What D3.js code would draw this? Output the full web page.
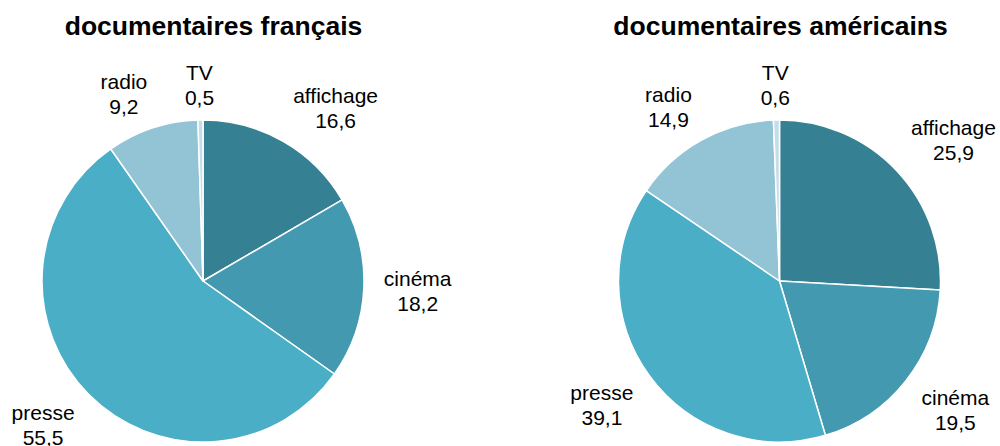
<!DOCTYPE html>
<html>
<head>
<meta charset="utf-8">
<script src="https://cdn.jsdelivr.net/npm/d3@7"></script>
<style>
  html, body { margin: 0; padding: 0; background: #fff; }
  svg { display: block; font-family: Arial, "Liberation Sans", sans-serif; }
</style>
</head>
<body>
<div id="canvas"></div>
<script>
const categories = ['affichage', 'cinéma', 'presse', 'radio', 'TV']
const titles = ['documentaires français', 'documentaires américains']
const valuesFr = [16.6, 18.2, 55.5, 9.2, 0.5]
const valuesUs = [25.9, 19.5, 39.1, 14.9, 0.6]

const colors = ['#368093', '#4399b0', '#4aaec6', '#93c4d5', '#c4dde8']

const width = 1000
const height = 446
const radius = 161
const panels = [
  { cx: 203, cy: 281, titleX: 213.5, values: valuesFr, title: titles[0] },
  { cx: 779.5, cy: 281, titleX: 780.5, values: valuesUs, title: titles[1] }
]

const color = d3.scaleOrdinal()
  .domain(categories)
  .range(colors)

const fmt = v => String(v.toFixed(1)).replace('.', ',')

const svg = d3.select('#canvas')
  .append('svg')
    .attr('width', width)
    .attr('height', height)

const pie = d3.pie()
  .sort(null)
  .value(d => d.value)

const arc = d3.arc()
  .innerRadius(0)
  .outerRadius(radius)

const clamp = v => Math.max(-1, Math.min(1, v))

panels.forEach(p => {
  const data = categories.map((c, i) => ({ name: c, value: p.values[i] }))

  svg.append('text')
    .attr('x', p.titleX)
    .attr('y', 35)
    .attr('text-anchor', 'middle')
    .attr('font-size', '26.5px')
    .attr('font-weight', 'bold')
    .attr('fill', '#000')
    .text(p.title)

  const g = svg.append('g')
    .attr('transform', `translate(${p.cx}, ${p.cy})`)

  const arcs = pie(data)

  g.selectAll('path')
    .data(arcs)
    .enter()
    .append('path')
      .attr('d', arc)
      .attr('fill', d => color(d.data.name))
      .attr('stroke', '#fff')
      .attr('stroke-width', 1.5)
      .attr('stroke-linejoin', 'round')

  // labels: nearest corner of the visible text box sits just outside the rim
  const fontSize = 21
  const lineH = 25
  const capH = fontSize * 0.72
  const labels = g.selectAll('g.label')
    .data(arcs)
    .enter()
    .append('g')
      .attr('class', 'label')

  labels.each(function(d) {
    const sel = d3.select(this)
    const t = sel.append('text')
      .attr('font-size', fontSize + 'px')
      .attr('fill', '#000')
      .attr('text-anchor', 'middle')
    t.append('tspan').attr('x', 0).attr('y', 0).text(d.data.name)
    t.append('tspan').attr('x', 0).attr('y', lineH).text(fmt(d.data.value))

    const bb = t.node().getBBox()
    const boxH = capH + lineH
    const mid = (d.startAngle + d.endAngle) / 2
    const ux = Math.sin(mid)
    const uy = -Math.cos(mid)
    const cx = ux * (radius + 20) + clamp(ux * 3) * bb.width / 2
    const cy = uy * (radius + 15) + clamp(uy * 3) * boxH / 2
    const bx = bb.x + bb.width / 2
    const by = (lineH - capH) / 2
    sel.attr('transform', `translate(${cx - bx}, ${cy - by})`)
  })
})
</script>
</body>
</html>
